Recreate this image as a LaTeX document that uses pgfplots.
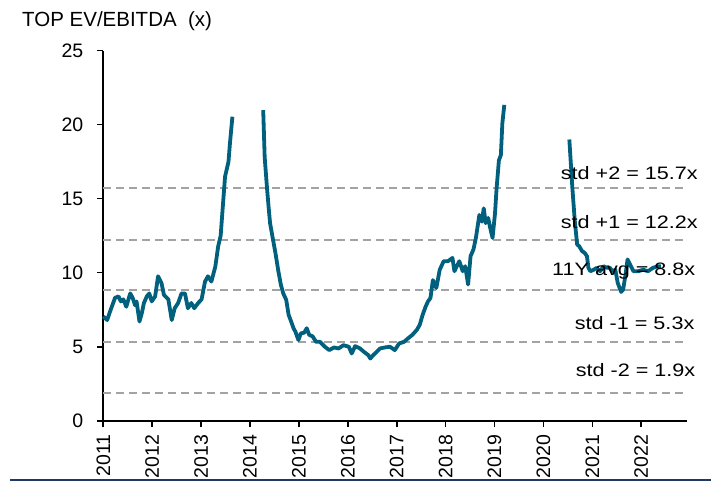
\documentclass[border=0pt]{standalone}
\usepackage{fontspec}
\setmainfont{Liberation Sans}
\newfontfamily\stretchfont[FakeStretch=1.2]{Liberation Sans}
\usepackage{pgfplots}
\pgfplotsset{compat=1.18}
\definecolor{teal1}{HTML}{00607E}
\definecolor{dgray}{HTML}{A3A3A3}
\definecolor{navy}{HTML}{1F3864}
\begin{document}
\begin{tikzpicture}
\begin{axis}[
  scale only axis, width=583.4bp, height=370bp,
  xmin=2011, xmax=2022.93, ymin=0, ymax=25,
  axis x line=bottom, axis y line=left,
  axis line style={-, black, line width=1.6bp},
  xtick={2011,2012,2013,2014,2015,2016,2017,2018,2019,2020,2021,2022},
  xticklabels={2011,2012,2013,2014,2015,2016,2017,2018,2019,2020,2021,2022},
  xticklabel style={rotate=90, anchor=east, xshift=-4bp},
  yticklabel style={xshift=-10bp},
  ytick={0,5,10,15,20,25},
  tick align=outside, major tick length=6.5bp,
  tick style={black, line width=1.6bp},
  tick label style={font=\fontsize{19.5bp}{23bp}\selectfont},
  /pgf/number format/assume math mode=true,
  clip=false,
]
\addplot[dgray, dash pattern=on 8bp off 5bp, line width=2bp] coordinates {(2011,15.7) (2022.89,15.7)};
\addplot[dgray, dash pattern=on 8bp off 5bp, line width=2bp] coordinates {(2011,12.2) (2022.89,12.2)};
\addplot[dgray, dash pattern=on 8bp off 5bp, line width=2bp] coordinates {(2011,8.8) (2022.89,8.8)};
\addplot[dgray, dash pattern=on 8bp off 5bp, line width=2bp] coordinates {(2011,5.3) (2022.89,5.3)};
\addplot[dgray, dash pattern=on 8bp off 5bp, line width=2bp] coordinates {(2011,1.9) (2022.89,1.9)};
% segment 1
\addplot[teal1, line width=3.8bp, line join=round] coordinates {
(2011.00,7.04) (2011.08,6.8) (2011.13,7.3) (2011.24,8.3) (2011.31,8.4) (2011.36,8.06)
(2011.41,8.2) (2011.47,7.7) (2011.55,8.6) (2011.60,8.3) (2011.65,7.8) (2011.68,8.06)
(2011.74,6.7) (2011.79,7.3) (2011.83,7.95) (2011.89,8.4) (2011.94,8.6) (2011.99,8.06)
(2012.06,8.4) (2012.12,9.76) (2012.19,9.3) (2012.24,8.5) (2012.33,8.2) (2012.40,6.8)
(2012.46,7.6) (2012.53,7.95) (2012.60,8.6) (2012.67,8.6) (2012.73,7.6) (2012.80,7.95)
(2012.86,7.6) (2012.94,7.95) (2013.01,8.2) (2013.08,9.4) (2013.14,9.76) (2013.21,9.4)
(2013.29,10.4) (2013.35,11.8) (2013.40,12.5) (2013.44,14.3) (2013.49,16.5) (2013.56,17.5)
(2013.59,18.75) (2013.64,20.54)
};
% segment 2
\addplot[teal1, line width=3.8bp, line join=round] coordinates {
(2014.27,20.98) (2014.30,17.8) (2014.35,15.62) (2014.38,14.45) (2014.41,13.35) (2014.47,12.24)
(2014.52,11.33) (2014.58,10.1) (2014.63,9.2) (2014.68,8.6) (2014.74,8.17) (2014.79,7.15)
(2014.83,6.8) (2014.89,6.25) (2014.93,6.0) (2014.99,5.45) (2015.04,5.9) (2015.11,5.95)
(2015.16,6.25) (2015.21,5.8) (2015.28,5.7) (2015.35,5.33) (2015.43,5.33) (2015.53,5.0)
(2015.62,4.77) (2015.72,4.95) (2015.81,4.88) (2015.91,5.1) (2016.02,5.0) (2016.08,4.54)
(2016.15,5.04) (2016.25,4.88) (2016.33,4.65) (2016.42,4.43) (2016.46,4.2) (2016.52,4.43)
(2016.59,4.65) (2016.66,4.88) (2016.76,4.95) (2016.86,5.0) (2016.96,4.77) (2017.05,5.22)
(2017.15,5.33) (2017.23,5.56) (2017.32,5.8) (2017.41,6.13) (2017.47,6.47) (2017.53,7.15)
(2017.59,7.7) (2017.64,8.06) (2017.69,8.29) (2017.74,9.5) (2017.81,8.97) (2017.88,10.2)
(2017.96,10.78) (2018.05,10.78) (2018.14,11.0) (2018.18,10.1) (2018.28,10.78) (2018.35,10.1)
(2018.40,10.44) (2018.46,9.2) (2018.51,11.12) (2018.57,11.58) (2018.62,12.37) (2018.69,13.9)
(2018.74,13.45) (2018.78,14.35) (2018.82,13.35) (2018.87,13.7) (2018.92,12.9) (2018.96,12.35)
(2019.01,14.0) (2019.04,15.59) (2019.09,17.6) (2019.13,17.95) (2019.16,20.08) (2019.20,21.34)
};
% segment 3
\addplot[teal1, line width=3.8bp, line join=round] coordinates {
(2020.53,19.0) (2020.59,15.82) (2020.64,13.55) (2020.69,11.9) (2020.73,11.8) (2020.79,11.46)
(2020.84,11.35) (2020.89,11.12) (2020.92,10.33) (2020.96,10.1) (2021.03,10.2) (2021.09,10.33)
(2021.16,10.1) (2021.23,10.44) (2021.30,10.33) (2021.36,10.33) (2021.41,10.1) (2021.47,10.2)
(2021.52,9.3) (2021.59,8.7) (2021.63,8.86) (2021.68,9.88) (2021.72,10.9) (2021.77,10.56)
(2021.84,10.1) (2021.94,10.1) (2022.04,10.2) (2022.14,10.1) (2022.24,10.33) (2022.35,10.44)
(2022.40,10.44)
};
\begin{scope}[every node/.style={anchor=base east, inner sep=0pt, font=\stretchfont\fontsize{18bp}{21bp}\selectfont}]
\node at (axis cs:2023.16,16.31) {std +2 = 15.7x};
\node at (axis cs:2023.16,13.0) {std +1 = 12.2x};
\node at (axis cs:2023.11,9.78) {11Y avg = 8.8x};
\node at (axis cs:2023.09,6.13) {std -1 = 5.3x};
\node at (axis cs:2023.11,3.02) {std -2 = 1.9x};
\end{scope}
\end{axis}
\node[anchor=base west, inner sep=0pt, font=\fontsize{20.5bp}{24bp}\selectfont] at (-81.3bp,394bp) {TOP EV/EBITDA\ \ (x)};
\draw[navy, line width=1.8bp] (-93.3bp,-59.6bp) -- (607.7bp,-59.6bp);
\pgfresetboundingbox
\path[use as bounding box] (-103.3bp,-63.3bp) rectangle (607.7bp,420.7bp);
\end{tikzpicture}
\end{document}
